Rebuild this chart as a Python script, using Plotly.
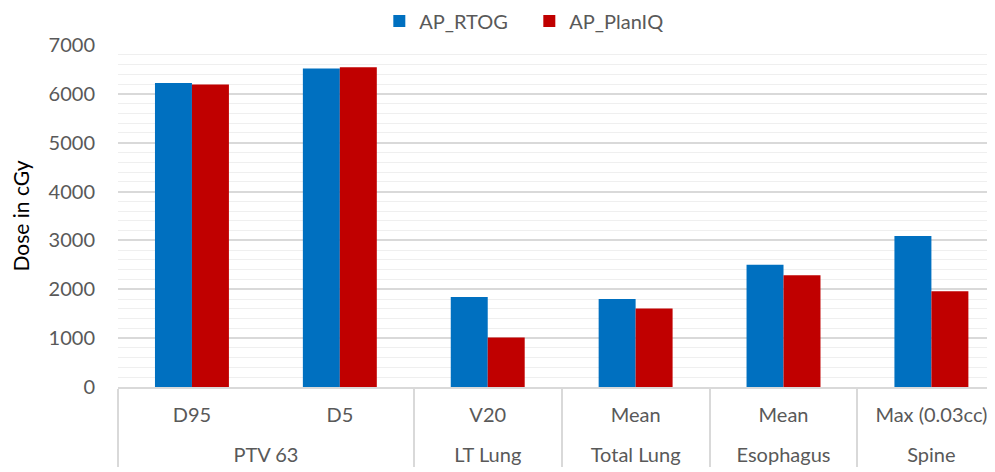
import plotly.graph_objects as go

groups = ["PTV 63", "PTV 63", "LT Lung", "Total Lung", "Esophagus", "Spine"]
metrics = ["D95", "D5", "V20", "Mean", "Mean", "Max (0.03cc)"]
ap_rtog = [6220, 6520, 1840, 1800, 2500, 3090]
ap_planiq = [6190, 6545, 1015, 1605, 2285, 1960]
y_ticks = [0, 1000, 2000, 3000, 4000, 5000, 6000, 7000]

# inner labels get an extra (small) blank line so the outer level sits lower, as in the reference
metric_labels = [m + "<br><span style='font-size:6px'>&nbsp;</span>" for m in metrics]

fig = go.Figure()
fig.add_trace(go.Bar(x=[groups, metric_labels], y=ap_rtog, name="AP_RTOG",
                     marker=dict(color="#0070C0", line=dict(width=0))))
fig.add_trace(go.Bar(x=[groups, metric_labels], y=ap_planiq, name="AP_PlanIQ",
                     marker=dict(color="#C00000", line=dict(width=0))))

FONT = "Lato, Open Sans, sans-serif"
# page body has an 8px margin: size the figure so it ends at the window edge
fig.update_layout(
    width=987, height=464,
    margin=dict(l=110, r=0, t=37, b=85, autoexpand=False),
    paper_bgcolor="white", plot_bgcolor="white",
    barmode="group", bargap=0.5, bargroupgap=0,
    font=dict(family=FONT, size=20, color="#595959"),
    legend=dict(orientation="h", x=0.469, xanchor="center",
                yref="container", y=0.972, yanchor="middle",
                font=dict(size=20, color="#595959"),
                entrywidth=105, entrywidthmode="pixels",
                traceorder="normal"),
    xaxis=dict(type="multicategory", range=[-0.5, 5.43], automargin=False,
               showline=True, linecolor="#D9D9D9", linewidth=1.5,
               showdividers=True, dividercolor="#D9D9D9", dividerwidth=1.5,
               ticklabelstandoff=9,
               tickfont=dict(size=20, color="#595959"), ticks=""),
    yaxis=dict(range=[0, 7000], tickvals=y_ticks, ticktext=[str(v) for v in y_ticks],
               showgrid=True, gridcolor="#D9D9D9", gridwidth=1.5,
               minor=dict(dtick=200, showgrid=True, gridcolor="#EFEFEF", gridwidth=1),
               zeroline=False, showline=False, automargin=False,
               ticklabelstandoff=22,
               tickfont=dict(size=20, color="#595959"),
               title=dict(text="Dose in cGy", font=dict(family=FONT, size=21, color="#000000"),
                          standoff=18)),
)

fig.write_html("out.html")
